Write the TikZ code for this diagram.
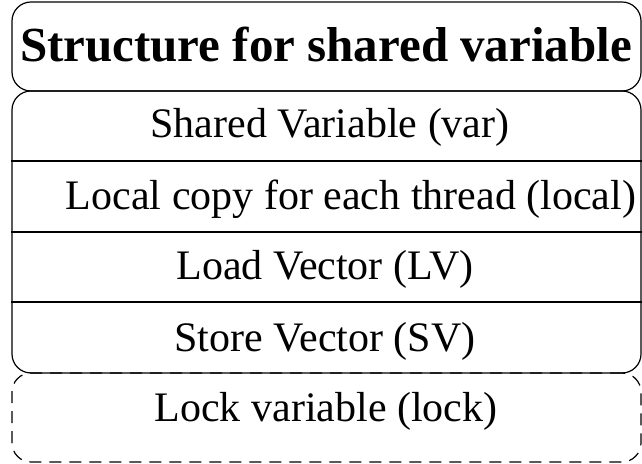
\documentclass[tikz,border=0pt]{standalone}
\usepackage{fontspec}
\setmainfont{Liberation Serif}
\begin{document}
\begin{tikzpicture}[x=1pt,y=1pt,
  panel/.style={draw=black, line width=1.2pt, rounded corners=19pt, inner sep=0pt, minimum width=629pt},
  entry/.style={font=\rmfamily\fontsize{42}{46}\selectfont, inner sep=0pt, anchor=center},
  sepline/.style={draw=black, line width=1.2pt}]
  \useasboundingbox (0,0) rectangle (642,463);
  % heading panel
  \node[panel, minimum height=89pt] (head) at (326.5,416.5) {};
  \node[font=\rmfamily\bfseries\fontsize{49}{54}\selectfont, inner sep=0pt] (title) at (326,418) {Structure for shared variable};
  % field panel
  \node[panel, minimum height=282pt] (fields) at (326.5,231) {};
  \node[entry] (var) at (330,336) {Shared Variable (var)};
  \node[entry] (local) at (351,264) {Local copy for each thread (local)};
  \node[entry] (lv) at (325,194) {Load Vector (LV)};
  \node[entry] (sv) at (325,122) {Store Vector (SV)};
  \coordinate (s1) at (0,302);
  \coordinate (s2) at (0,231);
  \coordinate (s3) at (0,161);
  \draw[sepline] (fields.west |- s1) -- (fields.east |- s1);
  \draw[sepline] (fields.west |- s2) -- (fields.east |- s2);
  \draw[sepline] (fields.west |- s3) -- (fields.east |- s3);
  % optional lock panel
  \node[panel, dash pattern=on 12pt off 8pt, minimum height=89pt] (lockbox) at (326.5,45.5) {};
  \node[entry] (lock) at (326,52) {Lock variable (lock)};
\end{tikzpicture}
\end{document}
